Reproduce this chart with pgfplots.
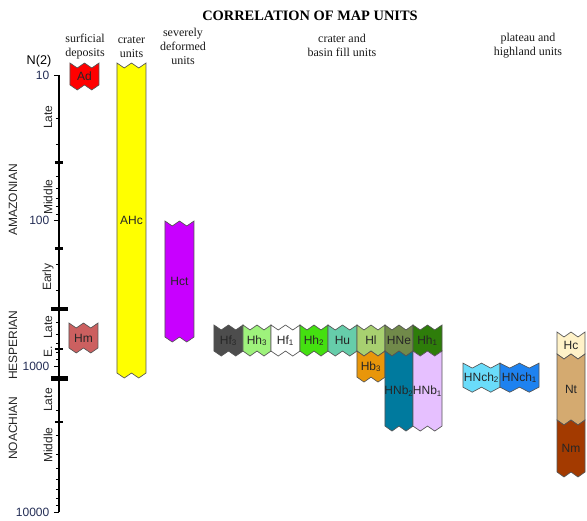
\documentclass[border=0pt]{standalone}
\usepackage{pgfplots}
\pgfplotsset{compat=1.18}
\usepackage{fontspec}
\setmainfont{Liberation Sans}
\newfontfamily\serifx{Liberation Serif}

\definecolor{tickcol}{RGB}{35,45,85}
\definecolor{edge}{RGB}{85,85,85}
\definecolor{cAd}{HTML}{FF0000}
\definecolor{cAHc}{HTML}{FFFF00}
\definecolor{cHct}{HTML}{C800FF}
\definecolor{cHm}{HTML}{CC6060}
\definecolor{cHfc}{HTML}{4D4D4D}
\definecolor{cHhc}{HTML}{9EF27C}
\definecolor{cHfa}{HTML}{FFFFFF}
\definecolor{cHhb}{HTML}{44E010}
\definecolor{cHu}{HTML}{66CDAA}
\definecolor{cHl}{HTML}{A8D070}
\definecolor{cHNe}{HTML}{718A4A}
\definecolor{cHha}{HTML}{2E7D0A}
\definecolor{cHbc}{HTML}{E8960A}
\definecolor{cHNbb}{HTML}{007A9E}
\definecolor{cHNba}{HTML}{E6C0FF}
\definecolor{cHNchb}{HTML}{6ADCFA}
\definecolor{cHNcha}{HTML}{1E82F0}
\definecolor{cHc}{HTML}{FFF2C8}
\definecolor{cNt}{HTML}{D4AA70}
\definecolor{cNm}{HTML}{A33A00}

\tikzset{ulab/.style={font=\fontsize{9}{10}\selectfont, inner sep=0pt, text=black!85},
         alab/.style={font=\fontsize{9}{10}\selectfont, inner sep=0pt, rotate=90, text=black!85},
         hlab/.style={font=\serifx\fontsize{9}{10.5}\selectfont, align=center, inner sep=0pt, text=black!90}}

\def\zz{1.082}
% #1 x0, #2 x1, #3 top N, #4 bottom N, #5 colour, #6 label
\newcommand\unit[6]{%
  \pgfmathsetmacro\xa{#1+(#2-#1)/4}%
  \pgfmathsetmacro\xb{#1+(#2-#1)/2}%
  \pgfmathsetmacro\xc{#1+3*(#2-#1)/4}%
  \pgfmathsetmacro\ta{#3*\zz}%
  \pgfmathsetmacro\ba{#4*\zz}%
  \pgfmathsetmacro\ym{exp((ln(#3)+ln(#4))/2)*1.04}%
  \edef\tmp{\noexpand\addplot[fill=#5, draw=edge, line width=0.5pt] coordinates {(#1,#3) (\xa,\ta) (\xb,#3) (\xc,\ta) (#2,#3) (#2,#4) (\xc,\ba) (\xb,#4) (\xa,\ba) (#1,#4)} -- cycle;
    \noexpand\node[ulab] at (axis cs:\xb,\ym) {\unexpanded{#6}};}%
  \tmp
}

\begin{document}
\begin{tikzpicture}
\begin{axis}[
  scale only axis, width=396pt, height=327.75pt,
  xmin=59, xmax=587, ymin=10, ymax=10000,
  ymode=log, y dir=reverse,
  axis x line=none, axis y line*=left, xtick=\empty,
  ytick={10,100,1000,10000}, yticklabels={10,100,1000,10000},
  minor ytick={20,30,40,50,60,70,80,90,200,300,400,500,600,700,800,900,2000,3000,4000,5000,6000,7000,8000,9000},
  tick align=outside, major tick length=3.75pt, minor tick length=2.25pt,
  tick style={black, line width=0.6pt},
  axis line style={black, line width=0.8pt},
  yticklabel style={font=\fontsize{9}{10}\selectfont, text=tickcol},
  clip=false,
]
% bounding frame of the picture
\path (axis cs:0,3.055) (axis cs:587,10995);

% period boundaries
\addplot[black, line width=2pt] coordinates {(55,40) (63,40)};
\addplot[black, line width=2pt] coordinates {(55,156) (63,156)};
\addplot[black, line width=3pt] coordinates {(51,405) (68,405)};
\addplot[black, line width=1.5pt] coordinates {(55,755) (63,755)};
\addplot[black, line width=3.3pt] coordinates {(51,1215) (68,1215)};
\addplot[black, line width=1.5pt] coordinates {(55,2410) (63,2410)};

% map units
\unit{70}{99}{8.27}{11.7}{cAd}{Ad}
\unit{117}{146}{8.27}{1111}{cAHc}{AHc}
\unit{165}{194}{100.5}{629}{cHct}{Hct}
\unit{69}{98}{504}{748}{cHm}{Hm}
\unit{214}{243}{520}{785}{cHfc}{Hf\textsubscript{3}}
\unit{243}{271}{520}{785}{cHhc}{Hh\textsubscript{3}}
\unit{271}{300}{520}{785}{cHfa}{Hf\textsubscript{1}}
\unit{300}{328}{520}{785}{cHhb}{Hh\textsubscript{2}}
\unit{328}{357}{520}{785}{cHu}{Hu}
\unit{357}{385}{520}{785}{cHl}{Hl}
\unit{385}{413}{520}{785}{cHNe}{HNe}
\unit{413}{442}{520}{785}{cHha}{Hh\textsubscript{1}}
\unit{357}{385}{785}{1185}{cHbc}{Hb\textsubscript{3}}
\unit{385}{413}{785}{2570}{cHNbb}{HNb\textsubscript{2}}
\unit{413}{442}{785}{2570}{cHNba}{HNb\textsubscript{1}}
\unit{463}{500}{950}{1390}{cHNchb}{HNch\textsubscript{2}}
\unit{500}{539}{950}{1390}{cHNcha}{HNch\textsubscript{1}}
\unit{557}{585}{581}{823}{cHc}{Hc}
\unit{557}{585}{823}{2336}{cNt}{Nt}
\unit{557}{585}{2336}{5313}{cNm}{Nm}

% axis annotations
\node[font=\fontsize{9.5}{10}\selectfont, inner sep=0pt] at (axis cs:39,8.08) {N(2)};
\node[alab] at (axis cs:48,19.43) {Late};
\node[alab] at (axis cs:48,68.8) {Middle};
\node[alab] at (axis cs:48,243.6) {Early};
\node[alab] at (axis cs:13,72.1) {AMAZONIAN};
\node[alab] at (axis cs:48,537) {Late};
\node[alab] at (axis cs:48,797) {E.};
\node[alab] at (axis cs:13,714) {HESPERIAN};
\node[alab] at (axis cs:48,1702) {Late};
\node[alab] at (axis cs:48,3467) {Middle};
\node[alab] at (axis cs:13,2651) {NOACHIAN};

% headers
\node[font=\serifx\bfseries\fontsize{10.8}{12}\selectfont, inner sep=0pt] at (axis cs:310,3.94) {CORRELATION OF MAP UNITS};
\node[hlab] at (axis cs:85,6.42) {surficial\\deposits};
\node[hlab] at (axis cs:131.5,6.42) {crater\\units};
\node[hlab] at (axis cs:183,6.32) {severely\\deformed\\units};
\node[hlab] at (axis cs:342,6.22) {crater and\\basin fill units};
\node[hlab] at (axis cs:528,6.32) {plateau and\\highland units};
\end{axis}
\end{tikzpicture}
\end{document}
